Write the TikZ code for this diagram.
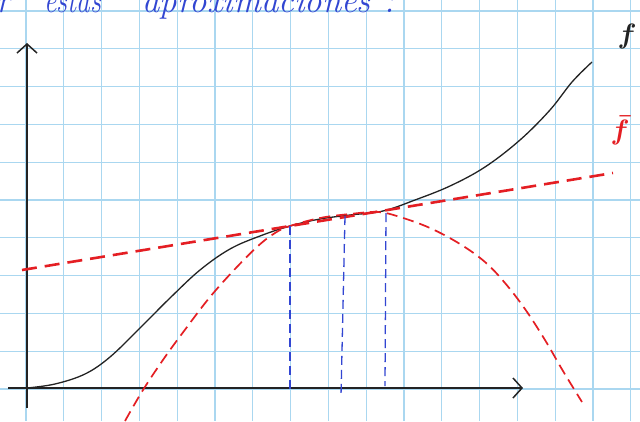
\documentclass[tikz,border=0pt]{standalone}
\usetikzlibrary{arrows.meta}
\definecolor{gridblue}{RGB}{170,215,240}
\definecolor{penred}{RGB}{228,30,35}
\definecolor{penblue}{RGB}{50,70,210}
\definecolor{inkblack}{RGB}{35,35,35}
\tikzset{
  gridline/.style={gridblue, line width=1.1pt},
  axisline/.style={inkblack, line width=1.5pt, -{Straight Barb[length=9pt,width=20pt]}},
  fcurve/.style={inkblack, line width=1.3pt},
  tangentline/.style={penred, line width=2.6pt, dash pattern=on 15pt off 8pt},
  approxcurve/.style={penred, line width=1.7pt, dash pattern=on 11pt off 6pt},
  dropline/.style={penblue, line width=1.3pt, dash pattern=on 9pt off 5pt},
  handtext/.style={penblue, font=\Huge\itshape, inner sep=0pt, transform shape, yscale=1.4},
}
\begin{document}
\begin{tikzpicture}[x=1pt,y=-1pt]
\useasboundingbox (0,0) rectangle (640,421);
\clip (0,0) rectangle (640,421);
\fill[white] (0,0) rectangle (640,421);
% squared paper
\foreach \i in {0,...,16} \draw[gridline] ({26+37.8*\i},0) -- ({26+37.8*\i},421);
\foreach \j in {0,...,10} \draw[gridline] (0,{389-37.8*\j}) -- (640,{389-37.8*\j});
% heading (cut off at the top)
\node[handtext, anchor=base west, xscale=1.37] (h1) at (-4,12) {r};
\node[handtext, anchor=base west, xscale=1.1] (h2) at (44,12) {estas};
\node[handtext, anchor=base west, xscale=1.4] (h3) at (142,12) {aproximaciones};
\node[handtext, anchor=base west, xscale=1.37] (h4) at (384,12) {:};
% axes
\coordinate (xs) at (8,388);
\coordinate (xe) at (523,388);
\coordinate (ys) at (27,408);
\coordinate (ye) at (27,43);
\draw[axisline] (xs) -- (xe);
\draw[axisline] (ys) -- (ye);
% function f
\draw[fcurve] plot[smooth, tension=0.6] coordinates {(27,388) (55,384) (85,374) (110,357) (140,328) (170,298) (200,270) (230,249) (260,236) (290,226) (320,219) (350,215) (383,211) (415,200) (450,186) (485,167) (520,140) (550,110) (572,82) (592,62)};
% linear approximation
\coordinate (ts) at (22,270);
\coordinate (te) at (613,173);
\draw[tangentline] (ts) -- (te);
% higher order approximation
\draw[approxcurve] plot[smooth, tension=0.6] coordinates {(125,421) (143,390) (165,357) (187,327) (210,297) (235,269) (258,246) (275,233) (290,226) (320,218) (350,214) (378,212) (400,217) (430,228) (460,244) (485,262) (505,283) (525,309) (545,340) (563,371) (582,402)};
% drop lines
\coordinate (d1t) at (290,226); \coordinate (d1b) at (290,393);
\coordinate (d2t) at (345,216); \coordinate (d2b) at (341,396);
\coordinate (d3t) at (386,213); \coordinate (d3b) at (385,386);
\draw[dropline] (d1t) -- (d1b);
\draw[dropline] (d2t) -- (d2b);
\draw[dropline] (d3t) -- (d3b);
% labels
\node[inkblack, font=\huge\boldmath, transform shape, scale=1.35, inner sep=0pt] (lf) at (627,36) {$f$};
\node[penred, font=\huge\boldmath, transform shape, scale=1.35, inner sep=0pt] (lfb) at (620,130) {$\bar{f}$};
\end{tikzpicture}
\end{document}
